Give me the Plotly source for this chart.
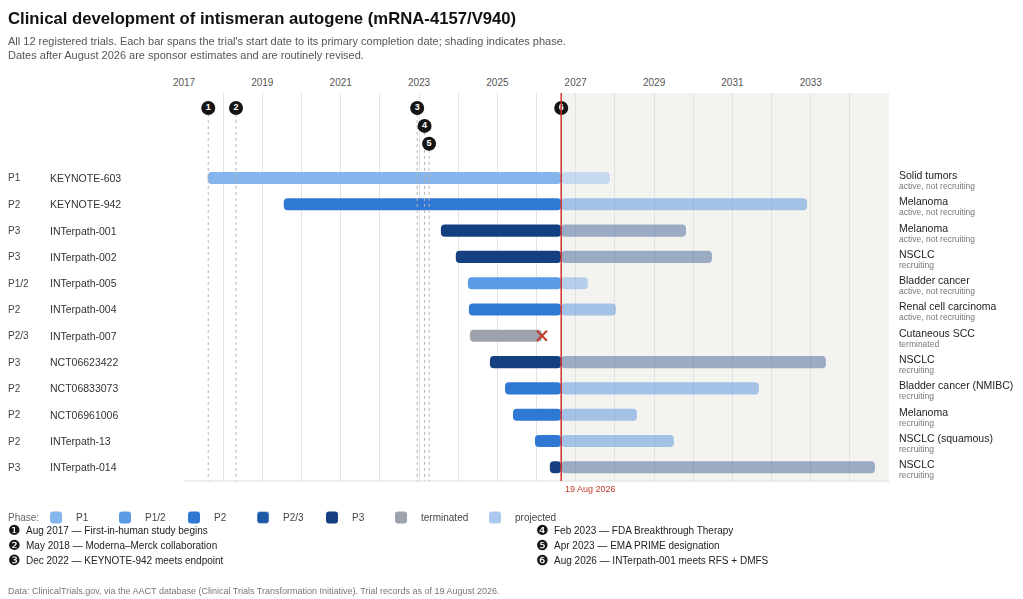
import pandas as pd
import plotly.graph_objects as go

# trial data
trials = ["KEYNOTE-603", "KEYNOTE-942", "INTerpath-001", "INTerpath-002", "INTerpath-005",
          "INTerpath-004", "INTerpath-007", "NCT06623422", "NCT06833073", "NCT06961006",
          "INTerpath-13", "INTerpath-014"]
phases = ["P1", "P2", "P3", "P3", "P1/2", "P2", "P2/3", "P3", "P2", "P2", "P2", "P3"]
starts = ["2017-08-10", "2019-07-20", "2023-07-24", "2023-12-10", "2024-04-01", "2024-04-10",
          "2024-04-20", "2024-10-23", "2025-03-13", "2025-05-26", "2025-12-17", "2026-05-05"]
ends = ["2027-11-16", "2032-11-27", "2029-10-25", "2030-06-24", "2027-04-24", "2028-01-10",
        "2026-02-20", "2033-05-22", "2031-09-05", "2028-07-25", "2029-07-05", "2034-08-22"]
diseases = ["Solid tumors", "Melanoma", "Melanoma", "NSCLC", "Bladder cancer", "Renal cell carcinoma",
            "Cutaneous SCC", "NSCLC", "Bladder cancer (NMIBC)", "Melanoma", "NSCLC (squamous)", "NSCLC"]
statuses = ["active, not recruiting", "active, not recruiting", "active, not recruiting", "recruiting",
            "active, not recruiting", "active, not recruiting", "terminated", "recruiting",
            "recruiting", "recruiting", "recruiting", "recruiting"]

milestone_dates = ["2017-08-15", "2018-05-01", "2022-12-15", "2023-02-22", "2023-04-05", "2026-08-19"]
milestone_level = [0, 0, 0, 1, 2, 0]
milestone_text = ["Aug 2017 \u2014 First-in-human study begins",
                  "May 2018 \u2014 Moderna\u2013Merck collaboration",
                  "Dec 2022 \u2014 KEYNOTE-942 meets endpoint",
                  "Feb 2023 \u2014 FDA Breakthrough Therapy",
                  "Apr 2023 \u2014 EMA PRIME designation",
                  "Aug 2026 \u2014 INTerpath-001 meets RFS + DMFS"]

phase_order = ["P1", "P1/2", "P2", "P2/3", "P3"]
phase_colors = {"P1": "#86b4ec", "P1/2": "#5b9be6", "P2": "#2f78d4", "P2/3": "#1f5aa8", "P3": "#143f80"}
term_color = "#9ca3ad"
today = "2026-08-19"
x_range = ["2017-01-01", "2034-12-31"]

FONT = "Liberation Sans, Arial, sans-serif"

df = pd.DataFrame({"trial": trials, "phase": phases, "start": pd.to_datetime(starts),
                   "end": pd.to_datetime(ends), "disease": diseases, "status": statuses})
df["row"] = range(len(df))
t0 = pd.Timestamp(today)
df["terminated"] = df["status"] == "terminated"

def ms(td):
    return td.dt.total_seconds() * 1000

fig = go.Figure()

# milestone dotted drop lines
y_top, y_bottom = -3.23, len(df) - 0.48
marker_y = [-2.66 + 0.68 * l for l in milestone_level]
for d, my in zip(milestone_dates, marker_y):
    fig.add_trace(go.Scatter(x=[d, d], y=[my, y_bottom], mode="lines",
                             line=dict(color="#b5b5b5", width=1, dash="dot"),
                             showlegend=False, hoverinfo="skip"))

bar_w = 0.46
rad = 4

# solid (elapsed) portion, drawn from today back to the start
for ph in phase_order:
    sub = df[(df["phase"] == ph) & (~df["terminated"])]
    if len(sub) == 0:
        fig.add_trace(go.Bar(x=[None], y=[None], orientation="h", name=ph,
                             marker=dict(color=phase_colors[ph], cornerradius=rad),
                             legendrank=phase_order.index(ph)))
        continue
    fig.add_trace(go.Bar(x=ms(sub["start"] - t0), base=[today] * len(sub), y=sub["row"],
                         orientation="h", width=bar_w, name=ph,
                         marker=dict(color=phase_colors[ph], cornerradius=rad, line=dict(width=0)),
                         legendrank=phase_order.index(ph), hovertext=sub["trial"], hoverinfo="text"))

# terminated trials
sub = df[df["terminated"]]
fig.add_trace(go.Bar(x=ms(sub["start"] - sub["end"]), base=sub["end"].dt.strftime("%Y-%m-%d"),
                     y=sub["row"], orientation="h", width=bar_w, name="terminated",
                     marker=dict(color=term_color, cornerradius=rad, line=dict(width=0)),
                     legendrank=10, legendwidth=49, hovertext=sub["trial"], hoverinfo="text"))

# projected portion (sponsor estimates)
for ph in phase_order:
    sub = df[(df["phase"] == ph) & (~df["terminated"]) & (df["end"] > t0)]
    if len(sub) == 0:
        continue
    fig.add_trace(go.Bar(x=ms(sub["end"] - t0), base=[today] * len(sub), y=sub["row"],
                         orientation="h", width=bar_w, name="projected", legendgroup="proj",
                         showlegend=(ph == "P2"), opacity=0.4, legendwidth=70,
                         marker=dict(color=phase_colors[ph], cornerradius=rad, line=dict(width=0)),
                         legendrank=11, hovertext=sub["trial"], hoverinfo="text"))

# termination cross
sub = df[df["terminated"]]
fig.add_trace(go.Scatter(x=sub["end"], y=sub["row"], mode="markers",
                         marker=dict(symbol="x-thin", size=10, line=dict(color="#c0392b", width=2)),
                         showlegend=False, hoverinfo="skip"))

# milestone markers
fig.add_trace(go.Scatter(x=milestone_dates, y=marker_y, mode="markers+text",
                         text=[str(i + 1) for i in range(len(milestone_dates))],
                         textposition="middle center",
                         textfont=dict(color="white", size=9, family=FONT, weight="bold"),
                         marker=dict(size=14, color="#151515"), cliponaxis=False,
                         showlegend=False, hovertext=milestone_text, hoverinfo="text"))

# shaded projection zone, today line, bottom frame
fig.add_shape(type="rect", x0=today, x1=x_range[1], y0=0, y1=1, yref="paper",
              fillcolor="#f3f3f0", line=dict(width=0), layer="below")
fig.add_shape(type="line", x0=0, x1=1, xref="paper", y0=0, y1=0, yref="paper",
              line=dict(color="#dcdcdc", width=1))
fig.add_shape(type="line", x0=today, x1=today, y0=0, y1=1, yref="paper",
              line=dict(color="#d0342c", width=1.5), layer="above")
fig.add_annotation(x=today, y=0, yref="paper", text="19 Aug 2026", showarrow=False,
                   xanchor="left", yanchor="top", xshift=2, yshift=-1,
                   font=dict(size=9, color="#c0392b", family=FONT))

# row labels
for _, r in df.iterrows():
    fig.add_annotation(x=-0.2496, xref="paper", y=r["row"], text=r["phase"], showarrow=False,
                       xanchor="left", xshift=-2, font=dict(size=10, color="#444", family=FONT))
    fig.add_annotation(x=-0.19, xref="paper", y=r["row"], text=r["trial"], showarrow=False,
                       xanchor="left", xshift=-2, font=dict(size=10.5, color="#333", family=FONT))
    fig.add_annotation(x=1.0142, xref="paper", y=r["row"], text=r["disease"], showarrow=False,
                       xanchor="left", xshift=-2, yshift=3,
                       font=dict(size=10.5, color="#222", family=FONT))
    fig.add_annotation(x=1.0142, xref="paper", y=r["row"], text=r["status"], showarrow=False,
                       xanchor="left", xshift=-2, yshift=-8,
                       font=dict(size=8.5, color="#777", family=FONT))

# subtitle, legend label, milestone notes, source
fig.add_annotation(x=-0.2496, xref="paper", y=1.1546, yref="paper", showarrow=False,
                   xanchor="left", yanchor="top", align="left", xshift=-2,
                   text="All 12 registered trials. Each bar spans the trial's start date to its primary "
                        "completion date; shading indicates phase.<br>Dates after August 2026 are sponsor "
                        "estimates and are routinely revised.",
                   font=dict(size=11, color="#555", family=FONT))

fig.add_annotation(x=-0.2496, xref="paper", y=-0.0928, yref="paper", showarrow=False,
                   xanchor="left", yanchor="middle", xshift=-2, text="Phase:",
                   font=dict(size=10, color="#666", family=FONT))

circled = ["\u2776", "\u2777", "\u2778", "\u2779", "\u277a", "\u277b"]
for i, txt in enumerate(milestone_text):
    col, line = divmod(i, 3)
    yy = -0.1263 - 0.0387 * line
    fig.add_annotation(x=-0.2496 if col == 0 else 0.4993, xref="paper", y=yy, yref="paper",
                       showarrow=False, xanchor="left", yanchor="middle", xshift=-2, text=circled[i],
                       font=dict(size=14, color="#151515", family="DejaVu Sans"))
    fig.add_annotation(x=-0.2241 if col == 0 else 0.5248, xref="paper", y=yy, yref="paper",
                       showarrow=False, xanchor="left", yanchor="middle", xshift=-2, text=txt,
                       font=dict(size=10, color="#222", family=FONT))

fig.add_annotation(x=-0.2496, xref="paper", y=-0.2835, yref="paper", showarrow=False,
                   xanchor="left", yanchor="middle", xshift=-2,
                   text="Data: ClinicalTrials.gov, via the AACT database (Clinical Trials Transformation "
                        "Initiative). Trial records as of 19 August 2026.",
                   font=dict(size=9, color="#777", family=FONT))

fig.update_layout(
    width=1015, height=591,
    margin=dict(l=176, r=134, t=85, b=118),
    paper_bgcolor="white", plot_bgcolor="white",
    font=dict(family=FONT, color="#333"),
    title=dict(text="<b>Clinical development of intismeran autogene (mRNA-4157/V940)</b>",
               x=0, xanchor="left", y=0.983, yanchor="middle", yref="container",
               font=dict(size=16.7, color="#111", family=FONT)),
    barmode="overlay",
    xaxis=dict(type="date", range=x_range, side="top", dtick="M24", tick0="2017-01-01",
               tickformat="%Y", showgrid=True, gridcolor="#e3e3e3", zeroline=False,
               ticks="", ticklabelstandoff=4, tickfont=dict(size=10, color="#555"),
               minor=dict(dtick="M12", showgrid=True, gridcolor="#e3e3e3")),
    yaxis=dict(range=[y_bottom, y_top], showgrid=False, zeroline=False, showticklabels=False),
    showlegend=True,
    legend=dict(orientation="h", x=-0.2099, xanchor="left", y=-0.0567, yanchor="top",
                font=dict(size=10, color="#444"), entrywidth=24, entrywidthmode="pixels",
                itemwidth=30, traceorder="normal", bgcolor="rgba(0,0,0,0)"),
)

fig.write_html("out.html")
